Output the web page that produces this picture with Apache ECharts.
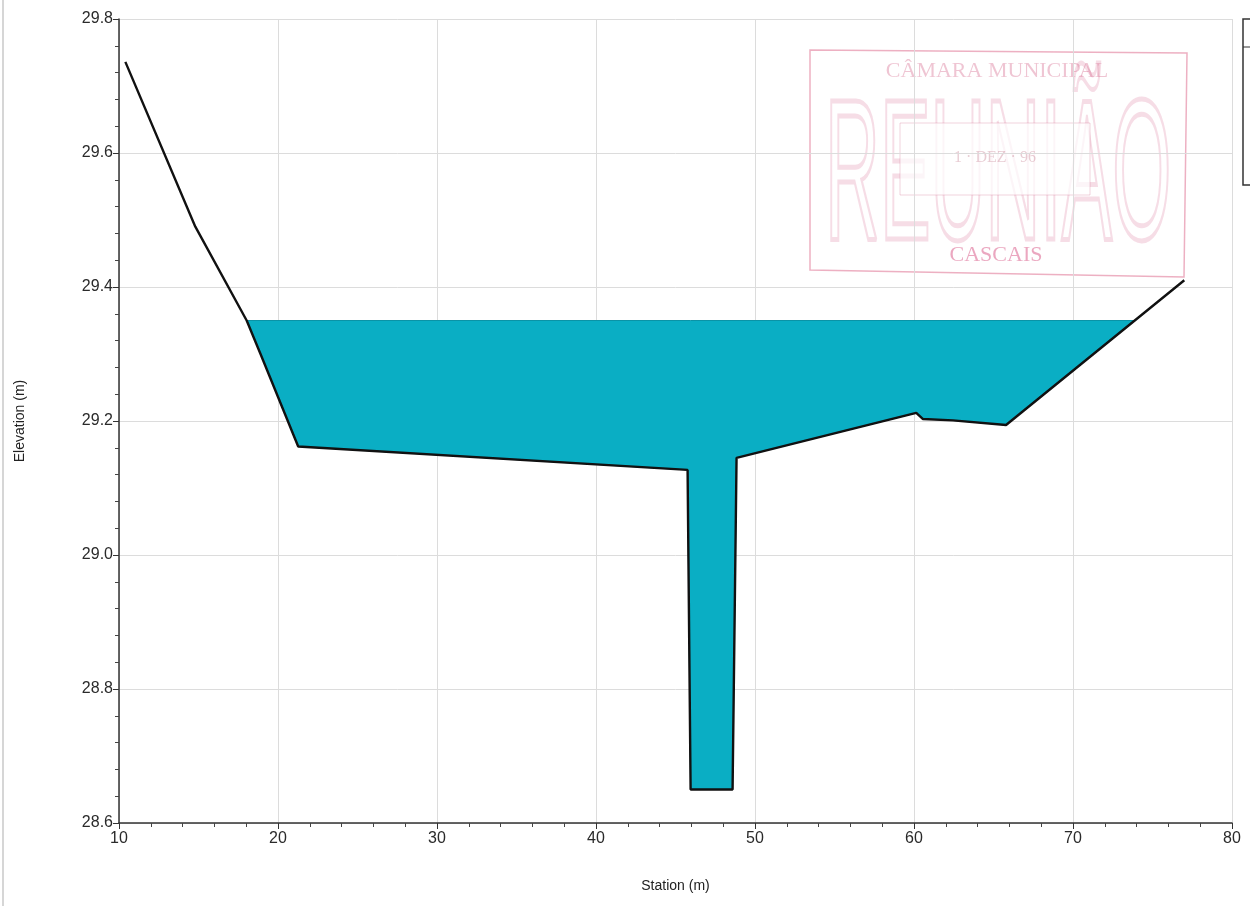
<!DOCTYPE html>
<html>
<head>
<meta charset="utf-8">
<script src="https://cdn.jsdelivr.net/npm/echarts@6/dist/echarts.min.js"></script>
<style>
html,body{margin:0;padding:0;background:#fff;}
#chart{width:1250px;height:906px;}
</style>
</head>
<body>
<div id="chart"></div>
<script>
// Ground profile (station m, elevation m)
const stations   = [10.4, 14.8, 18.03, 18.9, 21.27, 45.76, 45.95, 48.59, 48.84, 60.14, 60.55, 62.44, 65.79, 77.0];
const elevations = [29.736, 29.49, 29.35, 29.30, 29.162, 29.127, 28.65, 28.65, 29.145, 29.212, 29.203, 29.201, 29.194, 29.41];
const waterLevel = 29.35;
const xTicks = [10, 20, 30, 40, 50, 60, 70, 80];
const yTicks = [28.6, 28.8, 29.0, 29.2, 29.4, 29.6, 29.8];

const ground = stations.map((s, i) => [s, elevations[i]]);

// Wetted polygon: ground below water level, closed along the water surface
function waterPolygon() {
  const pts = [];
  for (let i = 0; i < ground.length - 1; i++) {
    const a = ground[i], b = ground[i + 1];
    const aw = a[1] <= waterLevel, bw = b[1] <= waterLevel;
    if (aw) pts.push(a);
    if (aw !== bw) {
      const t = (waterLevel - a[1]) / (b[1] - a[1]);
      pts.push([a[0] + t * (b[0] - a[0]), waterLevel]);
    }
  }
  const last = ground[ground.length - 1];
  if (last[1] <= waterLevel) pts.push(last);
  return pts;
}
const waterPts = waterPolygon();

const chart = echarts.init(document.getElementById('chart'), null, {renderer: 'canvas'});
const labelStyle = {color: '#2a2a2a', fontSize: 16, fontFamily: 'Liberation Sans, Arial, sans-serif'};

chart.setOption({
  backgroundColor: '#ffffff',
  animation: false,
  grid: {left: 119, right: 18, top: 19, bottom: 83, containLabel: false},
  xAxis: {
    type: 'value', min: xTicks[0], max: xTicks[xTicks.length - 1], interval: 10,
    name: 'Station (m)', nameLocation: 'middle', nameGap: 56,
    nameTextStyle: {color: '#222', fontSize: 14, fontFamily: 'Liberation Sans, Arial, sans-serif'},
    axisLine: {show: true, onZero: false, lineStyle: {color: '#333', width: 1.5}},
    axisTick: {show: true, inside: false, length: 6, lineStyle: {color: '#333'}},
    minorTick: {show: true, splitNumber: 5, length: 4, lineStyle: {color: '#444'}},
    axisLabel: Object.assign({margin: 8}, labelStyle),
    splitLine: {show: true, lineStyle: {color: '#dcdcdc', width: 1}}
  },
  yAxis: {
    type: 'value', min: yTicks[0], max: yTicks[yTicks.length - 1], interval: 0.2,
    name: 'Elevation (m)', nameLocation: 'middle', nameGap: 92, nameRotate: 90,
    nameTextStyle: {color: '#222', fontSize: 14, fontFamily: 'Liberation Sans, Arial, sans-serif'},
    axisLine: {show: true, onZero: false, lineStyle: {color: '#333', width: 1.5}},
    axisTick: {show: true, inside: false, length: 6, lineStyle: {color: '#333'}},
    minorTick: {show: true, splitNumber: 5, length: 4, lineStyle: {color: '#444'}},
    axisLabel: Object.assign({margin: 6, formatter: v => v.toFixed(1)}, labelStyle),
    splitLine: {show: true, lineStyle: {color: '#dcdcdc', width: 1}}
  },
  series: [
    {
      type: 'custom',
      z: 2,
      data: [0],
      renderItem: function (params, api) {
        const pts = waterPts.map(p => api.coord(p));
        return {
          type: 'polygon',
          shape: {points: pts},
          style: {fill: '#0aaec4', stroke: '#0a93a6', lineWidth: 1}
        };
      },
      silent: true
    },
    {
      type: 'line',
      z: 3,
      data: ground,
      symbol: 'none',
      lineStyle: {color: '#111', width: 2.4},
      silent: true
    }
  ],
  graphic: [
    // scan edge
    {type: 'line', shape: {x1: 3, y1: 0, x2: 3, y2: 906}, style: {stroke: '#c8c8c8', lineWidth: 1.5}, silent: true},
    // partial legend box at right edge
    {type: 'rect', shape: {x: 1243, y: 19, width: 30, height: 166}, style: {fill: 'none', stroke: '#333', lineWidth: 1.5}, silent: true},
    {type: 'line', shape: {x1: 1243, y1: 47, x2: 1250, y2: 47}, style: {stroke: '#333', lineWidth: 1}, silent: true},
    // faint red stamp
    {type: 'group', silent: true, z: 10, children: [
      {type: 'polygon', shape: {points: [[810, 50], [1187, 53], [1184, 277], [810, 270]]},
        style: {fill: 'none', stroke: 'rgba(215,80,120,0.45)', lineWidth: 1.5}},
      {type: 'text', x: 825, y: 184, scaleX: 0.38, scaleY: 1,
        style: {text: 'REUNIÃO', x: 0, y: 0, align: 'left', verticalAlign: 'middle',
        font: '200px "Liberation Sans", sans-serif', fill: 'none', stroke: 'rgba(215,100,140,0.22)', lineWidth: 5}},
      {type: 'text', style: {text: 'CÂMARA MUNICIPAL', x: 997, y: 71, align: 'center', verticalAlign: 'middle',
        font: '22px "Liberation Serif", serif', fill: 'rgba(210,90,130,0.35)'}},
      {type: 'rect', shape: {x: 900, y: 123, width: 190, height: 72},
        style: {fill: 'rgba(255,255,255,0.7)', stroke: 'rgba(210,110,140,0.3)', lineWidth: 1}},
      {type: 'text', style: {text: '1 · DEZ · 96', x: 995, y: 158, align: 'center', verticalAlign: 'middle',
        font: '16px "Liberation Serif", serif', fill: 'rgba(190,110,130,0.35)'}},
      {type: 'text', style: {text: 'CASCAIS', x: 996, y: 255, align: 'center', verticalAlign: 'middle',
        font: '22px "Liberation Serif", serif', fill: 'rgba(215,80,130,0.5)'}}
    ]}
  ]
});
</script>
</body>
</html>
